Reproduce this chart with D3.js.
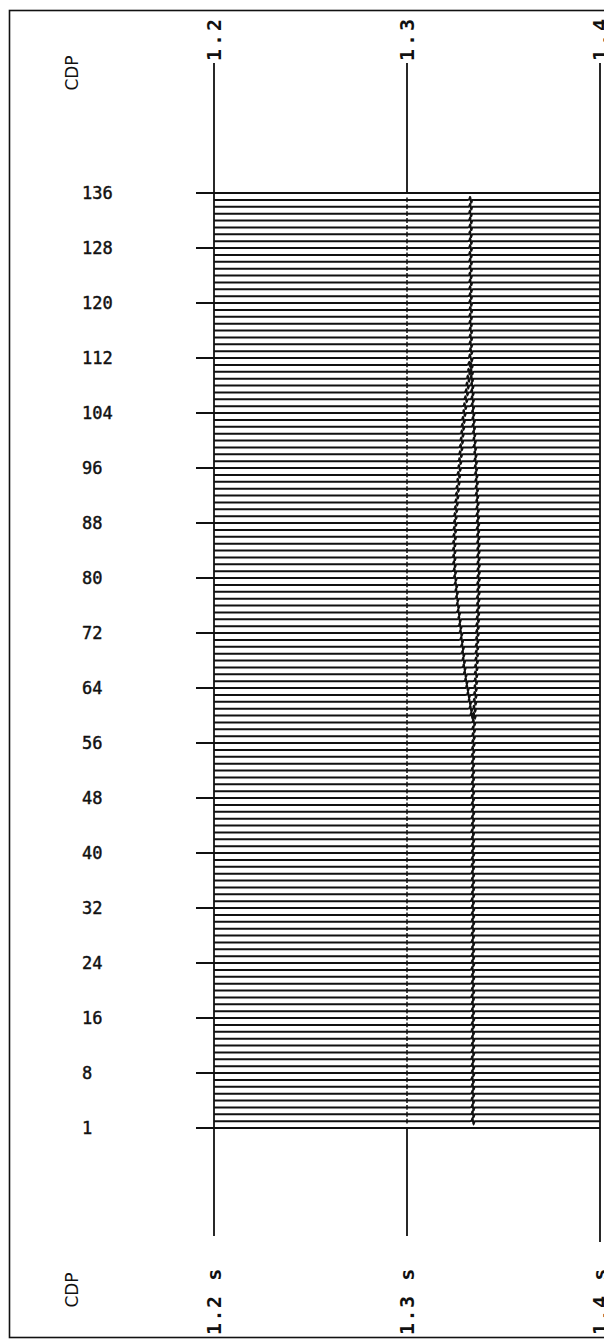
<!DOCTYPE html>
<html>
<head>
<meta charset="utf-8">
<script src="https://cdn.jsdelivr.net/npm/d3@7/dist/d3.min.js"></script>
<style>
  html, body { margin: 0; padding: 0; background: #fff; }
  svg { display: block; }
  .cdp-label { font-family: "DejaVu Sans Mono", monospace; font-size: 17px; fill: #111; stroke: #111; stroke-width: 0.45px; }
  .time-label { font-family: "DejaVu Sans Mono", monospace; font-size: 20px; font-weight: bold; fill: #111; }
  .time-label.top { letter-spacing: 3px; }
  .time-label.bottom { letter-spacing: 1.5px; }
  .axis-title { font-family: "DejaVu Sans", sans-serif; font-size: 17px; fill: #111; }
</style>
</head>
<body>
<svg id="chart" width="604" height="1342"></svg>
<script>
// Time axis (seconds) and CDP axis
const timeTicks = [1.2, 1.3, 1.4];
const timeTickLabels = ["1.2", "1.3", "1.4"];
const timeTickLabelsUnit = ["1.2 s", "1.3 s", "1.4 s"];
// CDP tick positions (the lowest one sits on the section's bottom edge)
const cdpTicks = [0, 8, 16, 24, 32, 40, 48, 56, 64, 72, 80, 88, 96, 104, 112, 120, 128, 136];
const cdpTickLabels = ["1", "8", "16", "24", "32", "40", "48", "56", "64", "72", "80", "88", "96", "104", "112", "120", "128", "136"];

// Traces drawn inside the section (the top edge line carries CDP 136)
const traceCdps = d3.range(1, 136);

// Reflection time (s) per CDP, CDP 1 .. 135
const reflectionTime = [
  1.3342, 1.3342, 1.3342, 1.3341, 1.3342, 1.3342, 1.3341, 1.3342,  // 1-8
  1.3342, 1.3341, 1.3342, 1.3342, 1.3342, 1.3341, 1.3342, 1.3342,  // 9-16
  1.3342, 1.3342, 1.3341, 1.3342, 1.3342, 1.3342, 1.3341, 1.3342,  // 17-24
  1.3342, 1.3342, 1.3342, 1.3341, 1.3342, 1.3342, 1.3342, 1.3342,  // 25-32
  1.3341, 1.3342, 1.3342, 1.3342, 1.3342, 1.3341, 1.3342, 1.3342,  // 33-40
  1.3342, 1.3342, 1.3341, 1.3342, 1.3342, 1.3342, 1.3342, 1.3341,  // 41-48
  1.3342, 1.3342, 1.3342, 1.3342, 1.3342, 1.3342, 1.3343, 1.3344,  // 49-56
  1.3345, 1.3346, 1.3347, 1.3349, 1.3350, 1.3352, 1.3354, 1.3355,  // 57-64
  1.3357, 1.3358, 1.3359, 1.3361, 1.3362, 1.3363, 1.3364, 1.3365,  // 65-72
  1.3366, 1.3367, 1.3368, 1.3369, 1.3369, 1.3370, 1.3370, 1.3371,  // 73-80
  1.3371, 1.3371, 1.3370, 1.3370, 1.3370, 1.3369, 1.3368, 1.3368,  // 81-88
  1.3367, 1.3366, 1.3365, 1.3363, 1.3362, 1.3361, 1.3359, 1.3357,  // 89-96
  1.3356, 1.3354, 1.3352, 1.3350, 1.3348, 1.3346, 1.3345, 1.3343,  // 97-104
  1.3341, 1.3340, 1.3339, 1.3338, 1.3336, 1.3335, 1.3334, 1.3333,  // 105-112
  1.3332, 1.3331, 1.3331, 1.3331, 1.3330, 1.3330, 1.3331, 1.3330,  // 113-120
  1.3330, 1.3330, 1.3330, 1.3329, 1.3330, 1.3330, 1.3329, 1.3330,  // 121-128
  1.3330, 1.3329, 1.3330, 1.3330, 1.3329, 1.3330, 1.3330           // 129-135
];

// Diffraction branch: first CDP and times (s) for CDP 60 .. 112
const diffractionStart = 60;
const diffractionTime = [
  1.3336, 1.3331, 1.3325, 1.3319, 1.3313, 1.3307, 1.3302, 1.3297,  // 60-67
  1.3294, 1.3291, 1.3288, 1.3284, 1.3280, 1.3276, 1.3272, 1.3268,  // 68-75
  1.3264, 1.3260, 1.3257, 1.3254, 1.3250, 1.3248, 1.3246, 1.3245,  // 76-83
  1.3245, 1.3245, 1.3247, 1.3248, 1.3250, 1.3251, 1.3254, 1.3257,  // 84-91
  1.3260, 1.3263, 1.3266, 1.3269, 1.3272, 1.3275, 1.3278, 1.3281,  // 92-99
  1.3284, 1.3287, 1.3290, 1.3293, 1.3297, 1.3301, 1.3306, 1.3310,  // 100-107
  1.3314, 1.3318, 1.3322, 1.3325, 1.3328                           // 108-112
];

const svg = d3.select("#chart");

const x = d3.scaleLinear().domain([1.2, 1.4]).range([214, 600]);
const y = d3.scaleLinear().domain([0, 136]).range([1128, 193]);

const ink = "#111";

// Outer frame (right side runs past the page edge)
svg.append("rect")
  .attr("x", 9.5).attr("y", 10.5)
  .attr("width", 640).attr("height", 1327)
  .attr("fill", "none").attr("stroke", ink).attr("stroke-width", 1.6);

// Seismic traces with a narrow wavelet at each event time
const amp = 2.8;      // px
const sigmaPx = 0.6;  // px
function wavelet(dxPx) {
  const u = dxPx / sigmaPx;
  return -u * Math.exp(-0.5 * u * u) * 1.65;
}
const traceData = traceCdps.map((cdp, i) => {
  const events = [reflectionTime[i]];
  const k = cdp - diffractionStart;
  if (k >= 0 && k < diffractionTime.length) events.push(diffractionTime[k]);
  return { cdp, events };
});

const line = d3.line().x(d => d[0]).y(d => d[1]);
svg.append("g").selectAll("path")
  .data(traceData)
  .join("path")
  .attr("d", d => {
    const y0 = y(d.cdp);
    const pts = [];
    const x0 = x(1.2), x1 = x(1.4);
    const evX = d.events.map(t => x(t));
    for (let px = x0; px <= x1; px += 0.2) {
      let off = 0;
      evX.forEach(ex => { off += wavelet(px - ex); });
      pts.push([px, y0 - amp * off]);
    }
    return line(pts);
  })
  .attr("fill", "none")
  .attr("stroke", ink)
  .attr("stroke-width", 2);

// Top and bottom edges of the section
svg.append("g").selectAll("line")
  .data([0, 136])
  .join("line")
  .attr("x1", x(1.2)).attr("x2", x(1.4))
  .attr("y1", d => y(d)).attr("y2", d => y(d))
  .attr("stroke", ink).attr("stroke-width", 2.2);

// CDP ticks and labels
svg.append("g").selectAll("line")
  .data(cdpTicks)
  .join("line")
  .attr("x1", 196).attr("x2", x(1.2))
  .attr("y1", d => y(d)).attr("y2", d => y(d))
  .attr("stroke", ink).attr("stroke-width", 2);

svg.append("g").selectAll("text")
  .data(cdpTicks)
  .join("text")
  .attr("class", "cdp-label")
  .attr("x", 82)
  .attr("y", d => y(d) + 6)
  .text((d, i) => cdpTickLabels[i]);

// Time lines above and below the section
svg.append("g").selectAll("line")
  .data(timeTicks)
  .join("line")
  .attr("x1", d => x(d)).attr("x2", d => x(d))
  .attr("y1", 63).attr("y2", y(136))
  .attr("stroke", ink).attr("stroke-width", 1.8);

svg.append("g").selectAll("line")
  .data(timeTicks)
  .join("line")
  .attr("x1", d => x(d)).attr("x2", d => x(d))
  .attr("y1", y(0)).attr("y2", (d, i) => i === 2 ? 1242 : 1236)
  .attr("stroke", ink).attr("stroke-width", 1.8);

// Solid time lines at the section edges
svg.append("g").selectAll("line")
  .data([1.2, 1.4])
  .join("line")
  .attr("x1", d => x(d)).attr("x2", d => x(d))
  .attr("y1", y(136)).attr("y2", y(0))
  .attr("stroke", ink).attr("stroke-width", 1.8);

// Interior timing line marked on each trace
svg.append("g").selectAll("line")
  .data(traceCdps)
  .join("line")
  .attr("x1", x(1.3)).attr("x2", x(1.3))
  .attr("y1", d => y(d) - 2.4).attr("y2", d => y(d) + 2.4)
  .attr("stroke", ink).attr("stroke-width", 1.5);

// Time labels (rotated)
svg.append("g").selectAll("text")
  .data(timeTicks)
  .join("text")
  .attr("class", "time-label top")
  .attr("transform", d => `translate(${x(d) + 7},61) rotate(-90)`)
  .attr("text-anchor", "start")
  .text((d, i) => timeTickLabels[i]);

svg.append("g").selectAll("text")
  .data(timeTicks)
  .join("text")
  .attr("class", "time-label bottom")
  .attr("transform", d => `translate(${x(d) + 7},1335) rotate(-90)`)
  .attr("text-anchor", "start")
  .text((d, i) => timeTickLabelsUnit[i]);

// Axis titles
svg.append("g").selectAll("text")
  .data([73, 1290])
  .join("text")
  .attr("class", "axis-title")
  .attr("transform", d => `translate(78,${d}) rotate(-90)`)
  .attr("text-anchor", "middle")
  .text("CDP");
</script>
</body>
</html>
